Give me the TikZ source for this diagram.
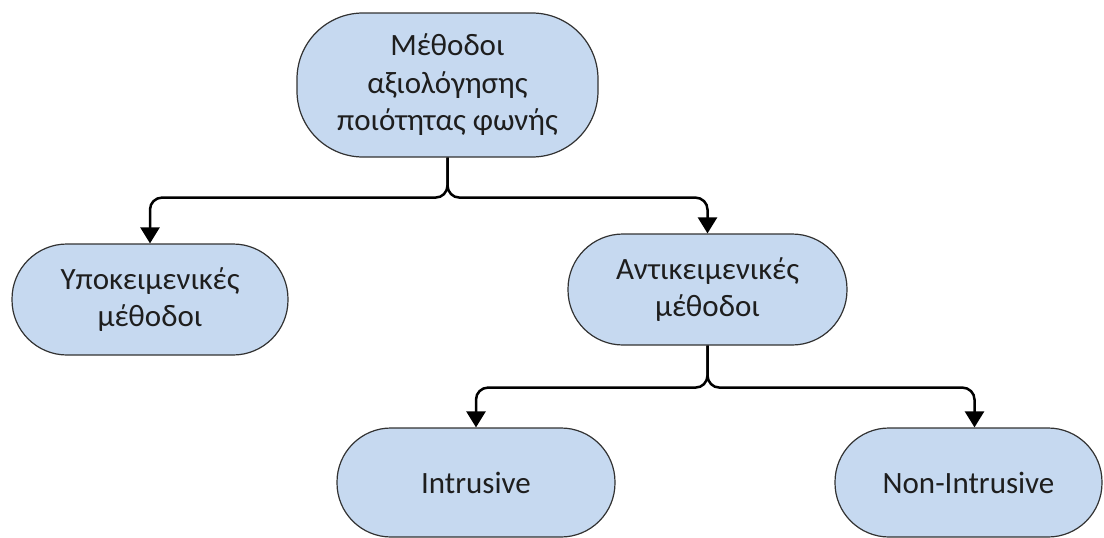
\documentclass[tikz,border=0pt]{standalone}
\usepackage{fontspec}
\setmainfont{Carlito}
\usetikzlibrary{arrows.meta}
\definecolor{boxfill}{RGB}{198,217,240}
\definecolor{boxline}{RGB}{50,50,50}
\definecolor{txt}{RGB}{30,30,30}
\tikzset{
  pill/.style={draw=boxline, line width=1.2pt, fill=boxfill, text=txt, align=center,
    font=\fontsize{31}{37.5}\selectfont, inner sep=0pt},
  conn/.style={draw=black, line width=2.5pt, rounded corners=12pt,
    -{Triangle[width=19pt,length=16pt]}}
}
\begin{document}
\begin{tikzpicture}[x=1pt,y=-1pt]
\useasboundingbox (0,0) rectangle (1104,538);
\node[pill, minimum width=301pt, minimum height=144pt, rounded corners=66pt] (top) at (447.5,85)
  {Μέθοδοι\\αξιολόγησης\\ποιότητας φωνής};
\node[pill, minimum width=276pt, minimum height=111pt, rounded corners=55pt] (subj) at (150,299.5)
  {Υποκειμενικές\\μέθοδοι};
\node[pill, minimum width=279pt, minimum height=111pt, rounded corners=55pt] (obj) at (707.5,289.5)
  {Αντικειμενικές\\μέθοδοι};
\node[pill, minimum width=278pt, minimum height=109pt, rounded corners=54pt] (intr) at (476,482.5)
  {Intrusive};
\node[pill, minimum width=267pt, minimum height=109pt, rounded corners=54pt] (nonintr) at (968.5,482.5)
  {Non-Intrusive};
\coordinate (nitop) at ([xshift=6pt]nonintr.north);
\draw[conn] (top.south) -- ++(0,40) -| (subj.north);
\draw[conn] (top.south) -- ++(0,40) -| (obj.north);
\draw[conn] (obj.south) -- ++(0,42) -| (intr.north);
\draw[conn] (obj.south) -- ++(0,42) -| (nitop);
\end{tikzpicture}
\end{document}
